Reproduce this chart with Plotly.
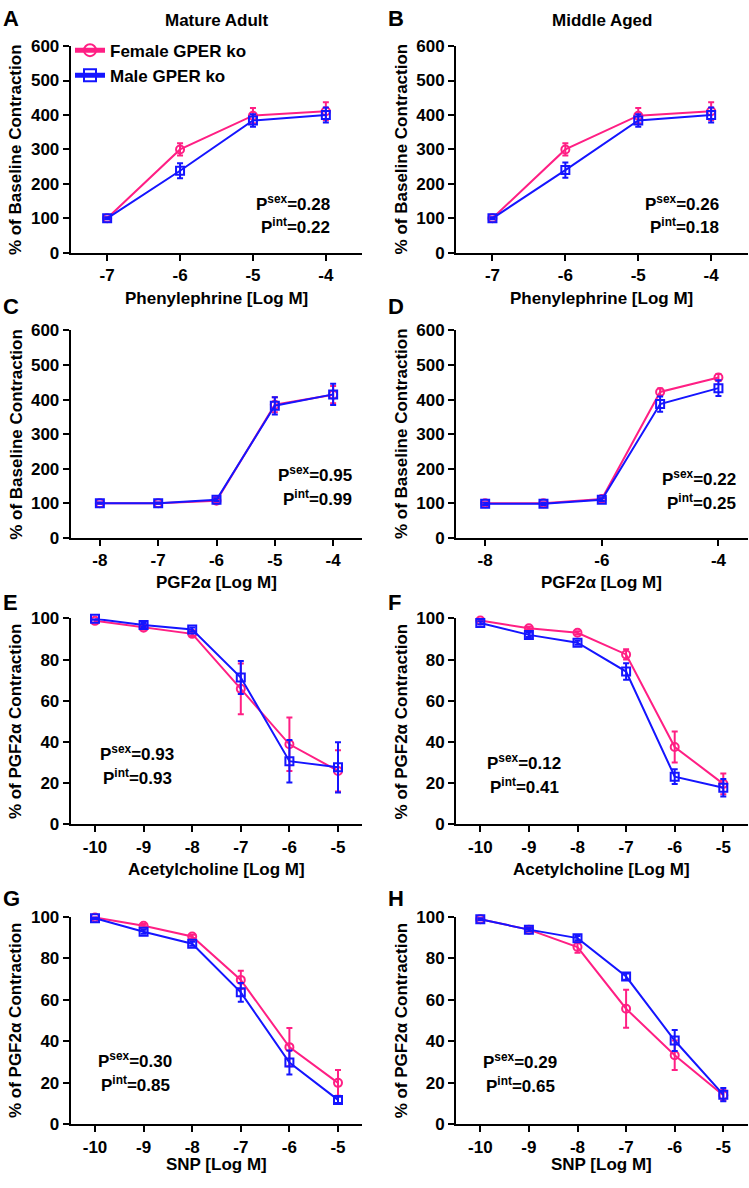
import plotly.graph_objects as go

W, H = 749, 1188
PINK = "#FF1F84"
BLUE = "#1515FF"
FONT = "Arial, Liberation Sans, sans-serif"

# ---------------- data ----------------
pe_x = [-7, -6, -5, -4]
A_female = [100, 300, 398, 411]
A_female_err = [3, 18, 22, 26]
A_male = [100, 238, 384, 400]
A_male_err = [3, 22, 18, 22]

B_female = [100, 300, 398, 411]
B_female_err = [3, 18, 22, 26]
B_male = [100, 240, 384, 400]
B_male_err = [3, 22, 18, 22]

pgf_x = [-8, -7, -6, -5, -4]
C_female = [100, 100, 107, 385, 414]
C_female_err = [2, 2, 5, 22, 25]
C_male = [100, 100, 110, 382, 415]
C_male_err = [2, 2, 4, 25, 31]

D_female = [100, 100, 112, 422, 464]
D_female_err = [3, 3, 4, 10, 10]
D_male = [98, 98, 110, 387, 433]
D_male_err = [3, 3, 4, 22, 23]

ach_x = [-10, -9, -8, -7, -6, -5]
E_female = [98.8, 95.5, 92.5, 65.8, 38.9, 26.0]
E_female_err = [0.8, 1.0, 1.0, 12.3, 13.0, 10.0]
E_male = [99.8, 96.8, 94.6, 71.3, 30.7, 27.7]
E_male_err = [0.5, 1.0, 1.0, 8.0, 10.3, 12.2]

F_female = [99.0, 95.2, 93.0, 82.5, 37.6, 19.7]
F_female_err = [0.5, 0.8, 0.8, 2.5, 7.5, 5.0]
F_male = [97.8, 92.0, 88.2, 74.2, 23.2, 17.8]
F_male_err = [0.8, 1.0, 1.0, 4.0, 3.6, 4.2]

snp_x = [-10, -9, -8, -7, -6, -5]
G_female = [99.5, 95.6, 90.4, 69.5, 37.1, 19.9]
G_female_err = [0.5, 0.8, 0.8, 4.4, 9.2, 6.2]
G_male = [99.2, 92.7, 86.9, 63.5, 29.7, 11.7]
G_male_err = [0.5, 1.0, 1.0, 4.5, 5.8, 1.5]

H_female = [98.7, 93.7, 85.3, 55.6, 33.2, 13.9]
H_female_err = [0.5, 0.8, 2.7, 9.1, 7.1, 2.5]
H_male = [98.7, 93.7, 89.6, 71.1, 40.3, 14.2]
H_male_err = [0.5, 0.8, 1.0, 1.5, 5.0, 3.2]

series_names = ["Female GPER ko", "Male GPER ko"]
col_titles = ["Mature Adult", "Middle Aged"]
panel_letters = ["A", "B", "C", "D", "E", "F", "G", "H"]
x_titles = ["Phenylephrine [Log M]", "Phenylephrine [Log M]",
            "PGF2α [Log M]", "PGF2α [Log M]",
            "Acetylcholine [Log M]", "Acetylcholine [Log M]",
            "SNP [Log M]", "SNP [Log M]"]
y_titles = ["% of Baseline Contraction"] * 4 + ["% of PGF2α Contraction"] * 4
p_sex = ["0.28", "0.26", "0.95", "0.22", "0.93", "0.12", "0.30", "0.29"]
p_int = ["0.22", "0.18", "0.99", "0.25", "0.93", "0.41", "0.85", "0.65"]

x_ticks_pe = [-7, -6, -5, -4]
x_ticks_pgf = [-8, -7, -6, -5, -4]
x_ticks_pgf_D = [-8, -6, -4]
x_ticks_ach = [-10, -9, -8, -7, -6, -5]
y_ticks_base = [0, 100, 200, 300, 400, 500, 600]
y_ticks_pct = [0, 20, 40, 60, 80, 100]

panels = [
    (pe_x, A_female, A_female_err, A_male, A_male_err, x_ticks_pe, [-7.5, -3.5], y_ticks_base, [0, 600]),
    (pe_x, B_female, B_female_err, B_male, B_male_err, x_ticks_pe, [-7.5, -3.5], y_ticks_base, [0, 600]),
    (pgf_x, C_female, C_female_err, C_male, C_male_err, x_ticks_pgf, [-8.5, -3.5], y_ticks_base, [0, 600]),
    (pgf_x, D_female, D_female_err, D_male, D_male_err, x_ticks_pgf_D, [-8.5, -3.5], y_ticks_base, [0, 600]),
    (ach_x, E_female, E_female_err, E_male, E_male_err, x_ticks_ach, [-10.5, -4.5], y_ticks_pct, [0, 100]),
    (ach_x, F_female, F_female_err, F_male, F_male_err, x_ticks_ach, [-10.5, -4.5], y_ticks_pct, [0, 100]),
    (snp_x, G_female, G_female_err, G_male, G_male_err, x_ticks_ach, [-10.5, -4.5], y_ticks_pct, [0, 100]),
    (snp_x, H_female, H_female_err, H_male, H_male_err, x_ticks_ach, [-10.5, -4.5], y_ticks_pct, [0, 100]),
]

# ---------------- layout geometry (pixels) ----------------
col_px = [(70.7, 362.3), (456.0, 747.6)]
row_px = [(37.7, 247.7), (326.7, 537.3), (619.3, 828.7), (922.3, 1133.3)]
xtitle_gap = [46, 46, 46, 41]
letter_x = [1, 386]
letter_y = [10, 302.5, 603, 903.5]

def fx(p):
    return p / W

def fy(p):
    return 1 - p / H

fig = go.Figure()
layout = dict(
    width=W, height=H, margin=dict(l=0, r=0, t=0, b=0),
    paper_bgcolor="white", plot_bgcolor="white",
    font=dict(family=FONT, size=17, color="black", weight="bold"),
    showlegend=True,
    legend=dict(x=fx(70), y=fy(24), xanchor="left", yanchor="top",
                bgcolor="rgba(0,0,0,0)", borderwidth=0,
                font=dict(family=FONT, size=17, color="black", weight="bold"),
                tracegroupgap=0, itemsizing="constant"),
)
annotations = []

for i, (xs, fv, fe, mv, me, xt, xr, yt, yr) in enumerate(panels):
    r, c = divmod(i, 2)
    n = i + 1
    xa = "x" if n == 1 else f"x{n}"
    ya = "y" if n == 1 else f"y{n}"
    for vals, errs, color, sym, name in [
        (fv, fe, PINK, "circle-open", series_names[0]),
        (mv, me, BLUE, "square-open", series_names[1]),
    ]:
        fig.add_trace(go.Scatter(
            x=xs, y=vals, mode="lines+markers", name=name,
            xaxis=xa, yaxis=ya, showlegend=(i == 0), cliponaxis=False,
            line=dict(color=color, width=2),
            marker=dict(symbol=sym, size=8, color=color, line=dict(color=color, width=2)),
            error_y=dict(type="data", array=errs, visible=True, color=color,
                         thickness=2, width=3),
        ))
    x0, x1 = col_px[c]
    y0, y1 = row_px[r]
    axis_common = dict(showline=True, linecolor="black", linewidth=2,
                       ticks="outside", ticklen=6, tickwidth=2, tickcolor="black",
                       showgrid=False, zeroline=False,
                       tickfont=dict(family=FONT, size=17, color="black", weight="bold"))
    layout["xaxis" if n == 1 else f"xaxis{n}"] = dict(
        domain=[fx(x0), fx(x1)], range=xr, anchor=ya,
        tickvals=xt, ticktext=[str(v) for v in xt], **axis_common)
    layout["yaxis" if n == 1 else f"yaxis{n}"] = dict(
        domain=[fy(y1), fy(y0)], range=yr, anchor=xa,
        tickvals=yt, ticktext=[str(v) for v in yt], **axis_common)

    xmid = (x0 + x1) / 2
    annotations.append(dict(text=x_titles[i], x=fx(xmid), y=fy(y1 + xtitle_gap[r]),
                            xref="paper", yref="paper", showarrow=False,
                            xanchor="center", yanchor="middle",
                            font=dict(family=FONT, size=17, weight="bold")))
    annotations.append(dict(text=y_titles[i], x=fx(x0 - 55), y=fy((y0 + y1) / 2),
                            xref="paper", yref="paper", showarrow=False, textangle=-90,
                            xanchor="center", yanchor="middle",
                            font=dict(family=FONT, size=17, weight="bold")))
    annotations.append(dict(text=panel_letters[i], x=fx(letter_x[c]), y=fy(letter_y[r]),
                            xref="paper", yref="paper", showarrow=False,
                            xanchor="left", yanchor="middle",
                            font=dict(family=FONT, size=22, weight="bold")))

annotations.append(dict(text=col_titles[0], x=fx(216.5), y=fy(12), xref="paper", yref="paper",
                        showarrow=False, xanchor="center", yanchor="middle",
                        font=dict(family=FONT, size=17, weight="bold")))
annotations.append(dict(text=col_titles[1], x=fx(602), y=fy(12), xref="paper", yref="paper",
                        showarrow=False, xanchor="center", yanchor="middle",
                        font=dict(family=FONT, size=17, weight="bold")))

p_pos = [
    (332, "right", 197, 221),
    (721, "right", 197, 221),
    (354, "right", 473, 497),
    (738, "right", 477, 501),
    (137, "center", 756, 780),
    (524, "center", 765, 790),
    (135, "center", 1068, 1092),
    (520, "center", 1069, 1093),
]
for i, (px_, anc, ys, yi) in enumerate(p_pos):
    annotations.append(dict(text="P<sup>sex</sup>=" + p_sex[i], x=fx(px_), y=fy(ys),
                            xref="paper", yref="paper", showarrow=False,
                            xanchor=anc, yanchor="middle",
                            font=dict(family=FONT, size=17, weight="bold")))
    annotations.append(dict(text="P<sup>int</sup>=" + p_int[i], x=fx(px_), y=fy(yi),
                            xref="paper", yref="paper", showarrow=False,
                            xanchor=anc, yanchor="middle",
                            font=dict(family=FONT, size=17, weight="bold")))

layout["annotations"] = annotations
fig.update_layout(**layout)
fig.write_html("out.html", config={"displayModeBar": False},
               post_script="document.body.style.margin='0';document.body.style.overflow='hidden';")
